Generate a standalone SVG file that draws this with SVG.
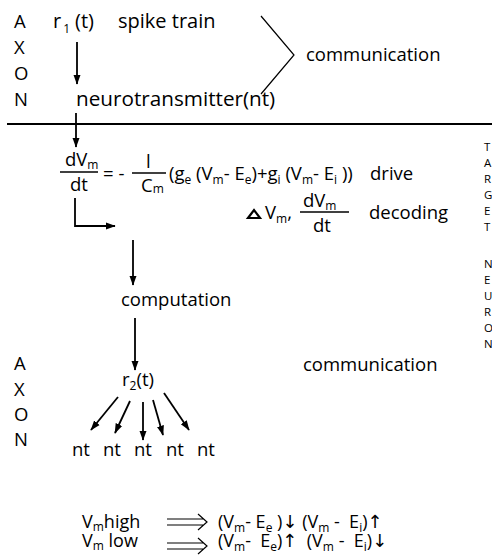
<svg xmlns="http://www.w3.org/2000/svg" width="492" height="559" viewBox="0 0 492 559">
<style>
text { font-family: "Open Sans", "Noto Sans", "DejaVu Sans", sans-serif; fill: #000; font-size: 18.5px; }
.big { font-size: 20px; }
.nt { font-size: 20.7px; }
.s { font-size: 12px; }
.sm { font-size: 11.5px; }
.eq { font-size: 18px; }
.ln { stroke: #000; stroke-width: 1.6; fill: none; }
.bar { stroke: #000; stroke-width: 1.4; }
.arr { stroke: #000; stroke-width: 1.8; fill: none; marker-end: url(#ah); }
</style>
<defs>
<marker id="ah" markerUnits="userSpaceOnUse" markerWidth="10" markerHeight="14" refX="13" refY="5" viewBox="0 0 14 10" orient="auto">
<path d="M0,0 L14,5 L0,10 Z" fill="#000"/>
</marker>
</defs>
<rect width="492" height="559" fill="#fff"/>

<g id="axon-top">
<text x="14" y="28">A</text>
<text x="14" y="54">X</text>
<text x="14" y="80">O</text>
<text x="14" y="106">N</text>
</g>

<g id="spike-train">
<text x="53" y="28" class="big">r<tspan class="s" dx="2" dy="5">1</tspan><tspan dx="5" dy="-5">(t)</tspan></text>
<text x="118" y="28" class="big">spike train</text>
</g>

<g id="neurotransmitter">
<text x="76" y="106" class="nt">neurotransmitter(nt)</text>
</g>

<g id="communication-top">
<polyline class="ln" points="261,16 294,55 261,94" style="stroke-width:1.2"/>
<text x="306" y="61">communication</text>
</g>

<line x1="7" y1="124" x2="492" y2="124" stroke="#000" stroke-width="2"/>

<g id="drive">
<text x="65" y="166">dV<tspan class="s" dy="3">m</tspan></text>
<line class="bar" x1="60" y1="172" x2="98" y2="172"/>
<text x="70" y="191">dt</text>
<text x="103" y="180">= -</text>
<text x="146" y="168">l</text>
<line class="bar" x1="132" y1="173" x2="166" y2="173"/>
<text x="141" y="192">C<tspan class="s" dy="1">m</tspan></text>
<text x="169" y="180" xml:space="preserve">(g<tspan class="s" dy="4">e</tspan><tspan dy="-4"> (V</tspan><tspan class="s" dy="4">m</tspan><tspan dy="-4">- E</tspan><tspan class="s" dy="4">e</tspan><tspan dy="-4">)+g</tspan><tspan class="s" dy="4">i</tspan><tspan dy="-4"> (V</tspan><tspan class="s" dy="4">m</tspan><tspan dy="-4">- E</tspan><tspan class="s" dy="4">i</tspan><tspan dy="-4"> ))</tspan></text>
<text x="370" y="180">drive</text>
</g>

<g id="decoding">
<polygon points="248,218 254,210 260,218" fill="none" stroke="#000" stroke-width="2.2" stroke-linejoin="miter"/>
<text x="265" y="219">V<tspan class="s" dy="4">m</tspan><tspan dy="-4">,</tspan></text>
<text x="303" y="207">dV<tspan class="s" dy="3">m</tspan></text>
<line class="bar" x1="300" y1="212" x2="349" y2="212"/>
<text x="313" y="232">dt</text>
<text x="369" y="219">decoding</text>
</g>

<g id="target-neuron">
<text class="sm" x="484" y="151">T</text>
<text class="sm" x="484" y="167">A</text>
<text class="sm" x="484" y="183">R</text>
<text class="sm" x="484" y="199">G</text>
<text class="sm" x="484" y="215">E</text>
<text class="sm" x="484" y="231">T</text>
<text class="sm" x="484" y="268">N</text>
<text class="sm" x="484" y="284">E</text>
<text class="sm" x="484" y="300">U</text>
<text class="sm" x="484" y="316">R</text>
<text class="sm" x="484" y="332">O</text>
<text class="sm" x="484" y="348">N</text>
</g>

<g id="computation">
<text x="121" y="306">computation</text>
</g>

<g id="r2">
<text x="122" y="386">r<tspan class="s" dy="4">2</tspan><tspan dy="-4">(t)</tspan></text>
</g>

<g id="axon-bottom">
<text x="14" y="370">A</text>
<text x="14" y="396">X</text>
<text x="14" y="421">O</text>
<text x="14" y="446">N</text>
</g>

<g id="communication-bottom">
<text x="303" y="371">communication</text>
</g>

<g id="nt-row">
<text x="72" y="456">nt</text>
<text x="103" y="456">nt</text>
<text x="134" y="456">nt</text>
<text x="166" y="456">nt</text>
<text x="197" y="456">nt</text>
</g>

<g id="connectors">
<line class="arr" x1="77" y1="42" x2="77" y2="84"/>
<line class="arr" x1="76" y1="113" x2="76" y2="147"/>
<path class="arr" d="M75,198 V226 H115"/>
<line class="arr" x1="133" y1="240" x2="133" y2="285"/>
<line class="arr" x1="135" y1="318" x2="135" y2="370"/>
<line class="arr" x1="118" y1="397" x2="91" y2="430"/>
<line class="arr" x1="130" y1="401" x2="115" y2="433"/>
<line class="arr" x1="143" y1="402" x2="143" y2="440"/>
<line class="arr" x1="153" y1="400" x2="163" y2="435"/>
<line class="arr" x1="164" y1="393" x2="189" y2="430"/>
</g>

<g id="rule-high">
<text class="eq" x="82" y="528">V<tspan class="s" dy="3">m</tspan><tspan dy="-3">high</tspan></text>
<path class="ln" d="M167,519 H203 M167,525 H203 M198,514 L207,522 L198,530" style="stroke-width:1.2"/>
<text class="eq" x="218" y="528" xml:space="preserve">(V<tspan class="s" dy="4">m</tspan><tspan dy="-4">- E</tspan><tspan class="s" dy="4">e</tspan><tspan dy="-4"> )↓ (V</tspan><tspan class="s" dy="4">m</tspan><tspan dy="-4"> -  E</tspan><tspan class="s" dy="4">i</tspan><tspan dy="-4">)↑</tspan></text>
</g>

<g id="rule-low">
<text class="eq" x="82" y="547" xml:space="preserve">V<tspan class="s" dy="3">m</tspan><tspan dy="-3"> low</tspan></text>
<path class="ln" d="M167,543 H203 M167,549 H203 M198,538 L207,546 L198,554" style="stroke-width:1.2"/>
<text class="eq" x="218" y="547" xml:space="preserve">(V<tspan class="s" dy="4">m</tspan><tspan dy="-4">-  E</tspan><tspan class="s" dy="4">e</tspan><tspan dy="-4">)↑  (V</tspan><tspan class="s" dy="4">m</tspan><tspan dy="-4"> -  E</tspan><tspan class="s" dy="4">i</tspan><tspan dy="-4">)↓</tspan></text>
</g>
</svg>
